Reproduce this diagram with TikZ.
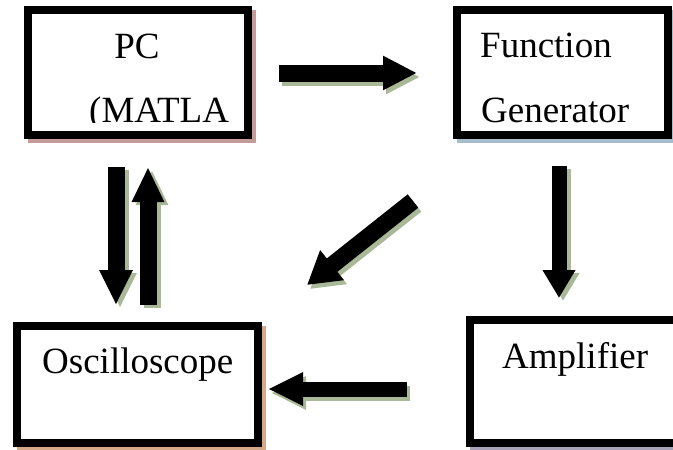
\documentclass[tikz,border=0pt]{standalone}
\usepackage{fontspec}
\setmainfont{Liberation Serif}
\usetikzlibrary{arrows.meta,backgrounds}
\definecolor{shpc}{HTML}{C49A9A}
\definecolor{shfg}{HTML}{A5BCCB}
\definecolor{shosc}{HTML}{D3A98A}
\definecolor{shamp}{HTML}{A8A2B8}
\definecolor{sharr}{HTML}{A9B897}
\tikzset{
  box/.style={draw=black, line width=8pt, fill=white, inner sep=0pt, outer sep=4pt, rectangle},
  lbl/.style={font=\fontsize{37}{44}\selectfont, inner sep=0pt, anchor=base west},
  fat/.style n args={3}{line width=#1, -{Triangle[width=#2,length=#3]}},
  fatshadow/.style={draw=sharr},
  fatmain/.style={draw=black},
}
\begin{document}
\begin{tikzpicture}[x=1pt,y=-1pt]
\useasboundingbox (0,0) rectangle (673,450);
% boxes
\node[box, minimum width=220pt, minimum height=125pt] (pc) at (138,72.5) {};
\node[box, minimum width=211pt, minimum height=125pt] (fg) at (562.5,72.5) {};
\node[box, minimum width=241pt, minimum height=117pt] (osc) at (137.5,384.5) {};
\node[box, minimum width=216pt, minimum height=123pt] (amp) at (578,381.5) {};
\begin{scope}[on background layer]
  \fill[shpc] ([shift={(4pt,-4pt)}]pc.north west) rectangle ([shift={(4pt,-4pt)}]pc.south east);
  \fill[shfg] ([shift={(4pt,-4pt)}]fg.north west) rectangle ([shift={(4pt,-4pt)}]fg.south east);
  \fill[shosc] ([shift={(4pt,-4pt)}]osc.north west) rectangle ([shift={(4pt,-4pt)}]osc.south east);
  \fill[shamp] ([shift={(4pt,-4pt)}]amp.north west) rectangle ([shift={(4pt,-4pt)}]amp.south east);
\end{scope}
% labels
\node[lbl, anchor=base] (pct) at (137,58) {PC};
\begin{scope}
  \clip (30,10) rectangle (248,122.5);
  \node[lbl] (matla) at (89,122) {(MATLA};
\end{scope}
\node[lbl] (fgt1) at (480,57) {Function};
\node[lbl] (fgt2) at (481,122) {Generator};
\node[lbl] (osct) at (42,373) {Oscilloscope};
\node[lbl] (ampt) at (502,368) {Amplifier};
% arrow end points
\coordinate (a1s) at (279,73);  \coordinate (a1e) at (417,73);
\coordinate (a2s) at (413,201); \coordinate (a2e) at (307,285);
\coordinate (a3s) at (116,167); \coordinate (a3e) at (116,305);
\coordinate (a4s) at (148,305); \coordinate (a4e) at (148,167);
\coordinate (a5s) at (559,166); \coordinate (a5e) at (559,298);
\coordinate (a6s) at (407,389); \coordinate (a6e) at (268,389);
% shadows
\begin{scope}[fatshadow]
  \draw[fat={17pt}{32pt}{34pt}] ([shift={(3pt,-4pt)}]a1s) -- ([shift={(3pt,-4pt)}]a1e);
  \draw[fat={17pt}{36pt}{32pt}] ([shift={(3pt,-4pt)}]a2s) -- ([shift={(3pt,-4pt)}]a2e);
  \draw[fat={17pt}{31pt}{35pt}] ([shift={(4pt,-3pt)}]a3s) -- ([shift={(4pt,-3pt)}]a3e);
  \draw[fat={17pt}{30pt}{35pt}] ([shift={(4pt,-3pt)}]a4s) -- ([shift={(4pt,-3pt)}]a4e);
  \draw[fat={15pt}{31pt}{28pt}] ([shift={(4pt,-3pt)}]a5s) -- ([shift={(4pt,-3pt)}]a5e);
  \draw[fat={15pt}{31pt}{35pt}] ([shift={(3pt,-4pt)}]a6s) -- ([shift={(3pt,-4pt)}]a6e);
\end{scope}
% arrows
\begin{scope}[fatmain]
  \draw[fat={17pt}{32pt}{34pt}] (a1s) -- (a1e);
  \draw[fat={17pt}{36pt}{32pt}] (a2s) -- (a2e);
  \draw[fat={17pt}{31pt}{35pt}] (a3s) -- (a3e);
  \draw[fat={17pt}{30pt}{35pt}] (a4s) -- (a4e);
  \draw[fat={15pt}{31pt}{28pt}] (a5s) -- (a5e);
  \draw[fat={15pt}{31pt}{35pt}] (a6s) -- (a6e);
\end{scope}
\end{tikzpicture}
\end{document}
